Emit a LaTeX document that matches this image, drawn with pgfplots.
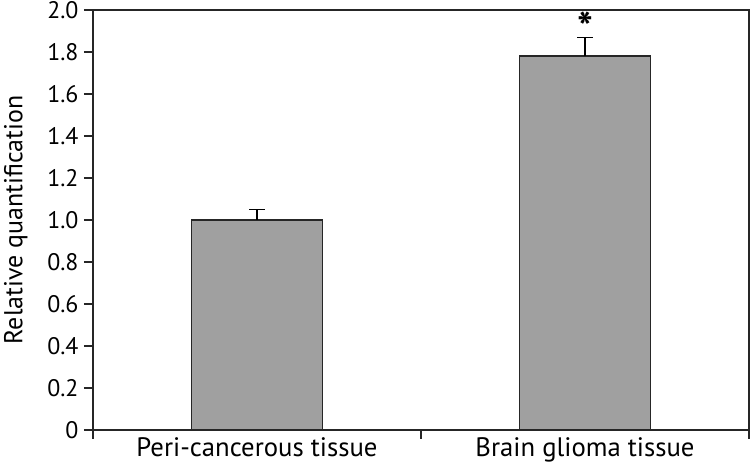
\documentclass[border=0pt]{standalone}
\usepackage{pgfplots}
\pgfplotsset{compat=1.18}
\usepackage{fontspec}
\setmainfont{PT Sans}
\definecolor{bargray}{HTML}{A0A0A0}
\begin{document}
\begin{tikzpicture}[x=1bp,y=1bp]
\path[use as bounding box] (-93,-36) rectangle (657,430);
\begin{axis}[
  at={(0,0)}, anchor=south west,
  scale only axis,
  width=656bp, height=420bp,
  xmin=-0.5, xmax=1.5,
  ymin=0, ymax=2.0,
  axis line style={line width=1.6bp, black!85},
  every tick/.style={line width=1.6bp, black!85},
  ytick={0,0.2,0.4,0.6,0.8,1.0,1.2,1.4,1.6,1.8,2.0},
  yticklabels={0,0.2,0.4,0.6,0.8,1.0,1.2,1.4,1.6,1.8,2.0},
  xtick={-0.5,0.5,1.5},
  xticklabels={},
  extra x ticks={0,1},
  extra x tick labels={Peri-cancerous tissue, Brain glioma tissue},
  extra x tick style={major tick length=0pt, tick label style={font=\fontsize{26.8}{28}\selectfont, yshift=-4bp}},
  tick align=outside,
  major tick length=9bp,
  xtick pos=bottom, ytick pos=left,
  tick label style={font=\fontsize{24}{26}\selectfont},
  yticklabel style={xshift=-2bp},
  ylabel={Relative quantification},
  ylabel style={font=\fontsize{26}{28}\selectfont, yshift=13bp},
  /pgf/number format/assume math mode=true,
]
\addplot[ybar, bar width=0.4, fill=bargray, draw=black!85, line width=1.4bp,
  error bars/.cd, y dir=plus, y explicit,
  error bar style={line width=1.4bp, black},
  error mark options={rotate=90, mark size=8bp, line width=1.4bp}]
  coordinates {(0,1.0) +- (0,0.05) (1,1.78) +- (0,0.088)};
\node[font=\fontsize{42}{42}\selectfont\bfseries] at (axis cs:1,1.92) {*};
\end{axis}
\end{tikzpicture}
\end{document}
